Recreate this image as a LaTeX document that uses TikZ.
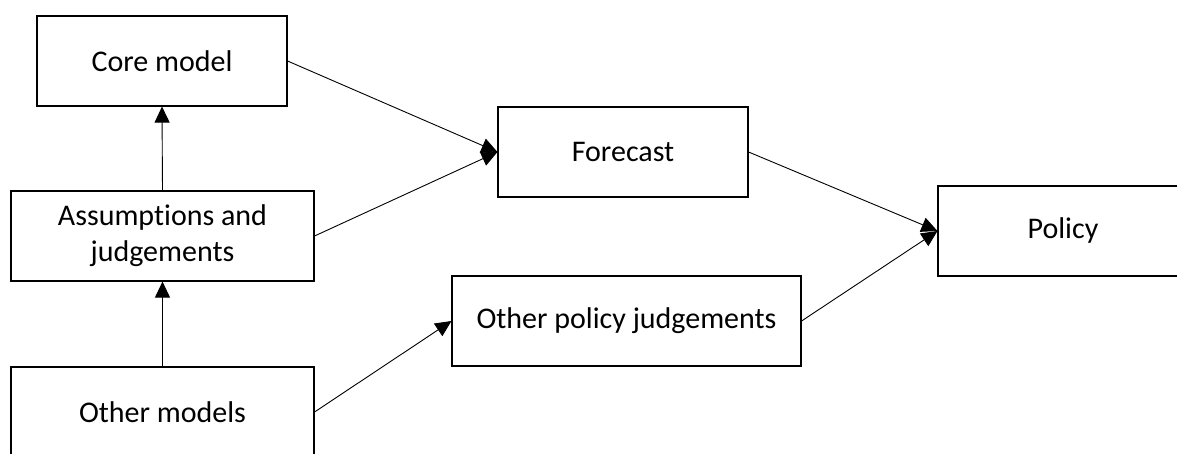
\documentclass[tikz,border=0pt]{standalone}
\usepackage{fontspec}
\setmainfont[Ligatures=NoCommon]{Carlito}
\usepackage{tikz}
\usetikzlibrary{positioning,arrows.meta}

\tikzset{
    box/.style={draw, line width=1.1pt, minimum height=90pt, align=center, inner sep=0pt, font=\fontsize{30}{36}\selectfont},
    link/.style={line width=0.9pt, -{Triangle[length=16pt,width=15pt]}}
}

\begin{document}
\begin{tikzpicture}[x=1pt,y=-1pt]
    \useasboundingbox (0,0) rectangle (1177,454);

    % Model boxes
    \node [box, minimum width=250pt] (core) at (162,61) {Core model};
    \node [box, minimum width=303pt] (assume) at (162.5,236) {Assumptions and\\judgements};
    \node [box, minimum width=303pt] (other) at (162.5,412) {Other models};

    % Outputs
    \node [box, minimum width=250pt] (forecast) at (623,152) {Forecast};
    \node [box, minimum width=349pt] (otherpol) at (626.5,321) {Other policy judgements};
    \node [box, minimum width=250pt] (policy) at (1063,231) {Policy};

    % Vertical links
    \draw [link] (other.north) -- (assume.south);
    \draw [link] (assume.north) -- (core.south);

    % Into forecast and policy
    \draw [link] (core.east) -- (forecast.west);
    \draw [link] (assume.east) -- (forecast.west);
    \draw [link] (other.east) -- (otherpol.west);
    \draw [link] (forecast.east) -- (policy.west);
    \draw [link] (otherpol.east) -- (policy.west);
\end{tikzpicture}
\end{document}
